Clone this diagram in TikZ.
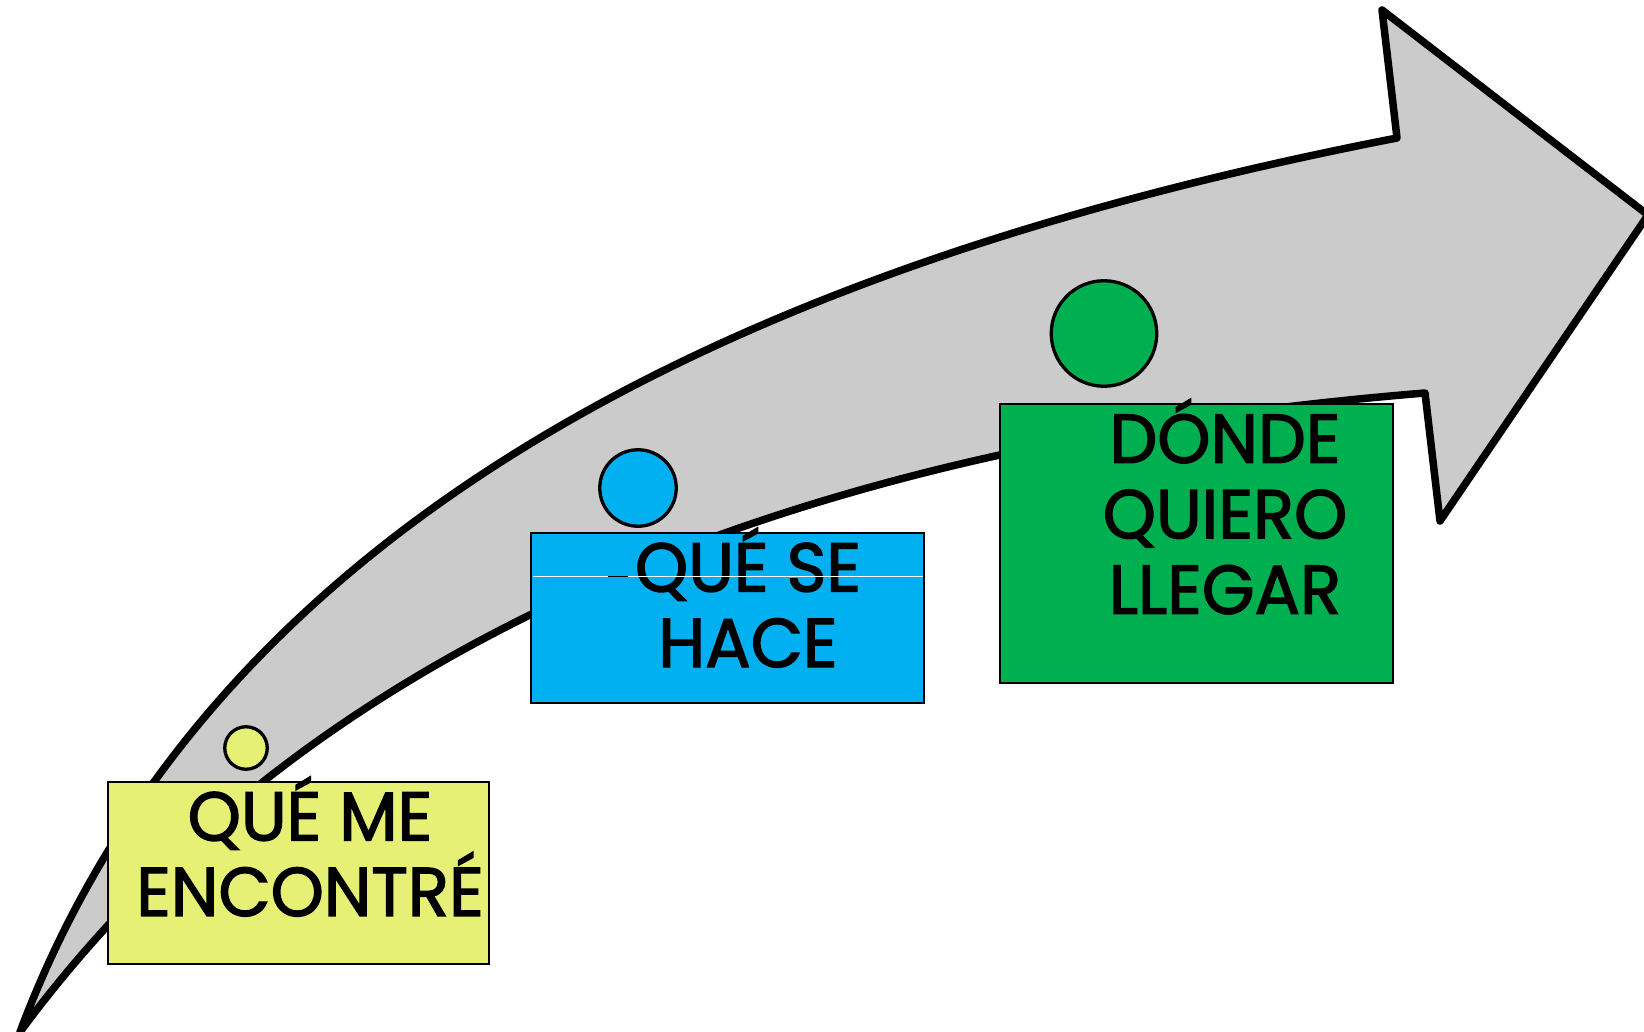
\documentclass[tikz,border=0pt]{standalone}
\usepackage{fontspec}
\setmainfont{Poppins}[RawFeature={embolden=2}]
\definecolor{arrowgrey}{HTML}{CBCBCB}
\definecolor{ylw}{HTML}{E6F074}
\definecolor{blu}{HTML}{00B0F0}
\definecolor{grn}{HTML}{00B050}
\tikzset{
  bigarrow/.style={draw=black,fill=arrowgrey,line width=7.5pt,line join=round},
  panel/.style={draw=black,line width=2pt,rectangle,inner sep=0pt},
  dot/.style={draw=black,line width=3.3pt,circle,inner sep=0pt},
  label/.style={font=\fontsize{69}{75.5}\selectfont,align=center,anchor=center,text=black,inner sep=0pt,xscale=.98,transform shape}
}
\begin{document}
\begin{tikzpicture}[x=1pt,y=-1pt]
\useasboundingbox (0,0) rectangle (1644,1032);
\draw[bigarrow] (20,1032)
  .. controls (233,464) and (856,243.5) .. (1397,138)
  -- (1382,10) -- (1648,215) -- (1440,521) -- (1425,393)
  .. controls (899.5,436) and (347.5,588) .. cycle;
\node[panel,fill=ylw,minimum width=380.5pt,minimum height=181.5pt] (boxa) at (298.5,873) {};
\node[panel,fill=blu,minimum width=392.5pt,minimum height=169.5pt] (boxb) at (727.5,618) {};
\node[panel,fill=grn,minimum width=392.5pt,minimum height=278.5pt] (boxc) at (1196.5,543.5) {};
\node[dot,fill=ylw,minimum size=42.5pt] (dota) at (246,748) {};
\node[dot,fill=blu,minimum size=76.5pt] (dotb) at (638,488) {};
\node[dot,fill=grn,minimum size=105.5pt] (dotc) at (1104,333.5) {};
\node[label] (texta) at (310,846.5) {QUÉ ME\\ENCONTRÉ};
\node[label] (textb) at (748,597.5) {QUÉ SE\\HACE};
\node[label] (textc) at (1225,506.5) {DÓNDE\\QUIERO\\LLEGAR};
\draw[white,line width=.7pt] (533,576.5) -- (923,576.5);
\draw[black,line width=1pt] (608,576.5) -- (628,576.5);
\end{tikzpicture}
\end{document}
